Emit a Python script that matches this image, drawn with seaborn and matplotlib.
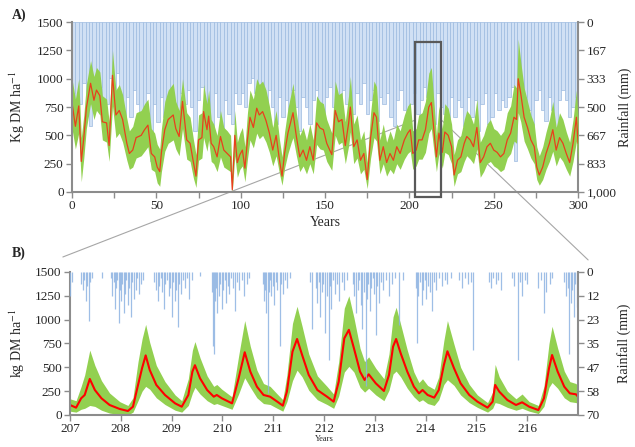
import numpy as np
import seaborn as sns
from matplotlib import pyplot as plt
from matplotlib.patches import Rectangle, ConnectionPatch

# ---------------- Panel A: 300 year simulation ----------------
yearsA = [0, 2, 4, 5.5, 7, 8.5, 11, 13, 14.5, 16.5,
          18, 20.5, 22, 24, 26, 28, 30, 32.5, 34, 36,
          38, 41, 43, 45, 47, 49, 50.5, 52, 53, 55,
          57, 60, 61.5, 63.5, 65.5, 68, 70, 72, 73.5, 75,
          77, 78, 80, 81, 82.5, 84, 86, 88, 90, 92,
          94, 95, 96.5, 98, 99.5, 101, 102.5, 104, 105.5, 107.5,
          109.5, 111, 113, 115, 117, 119, 121, 123, 124.5, 126,
          128, 130, 131, 133, 135, 137, 139, 141, 143, 145,
          147, 149, 151, 154, 156, 158, 160, 162, 164, 165,
          167, 169, 171, 173, 175, 177, 179, 180.5, 182.5, 184.5,
          186.5, 188.5, 190.5, 192.5, 194.5, 197, 199, 200.5, 202, 204,
          205.5, 207.5, 209.5, 211.5, 213, 214.5, 216, 217.5, 219.5, 221,
          223, 225, 226.5, 228.5, 230.5, 232.5, 234, 236, 238, 240,
          242, 244, 246, 248, 250, 252, 254, 256, 258, 260,
          262, 263.5, 264.5, 266, 268, 270, 272, 274, 275.5, 277,
          279, 281, 283, 285, 287, 289, 291, 293, 295, 297,
          299, 300]
meanA = [790, 580, 760, 270, 480, 740, 960, 810, 900, 850,
         620, 610, 410, 1030, 680, 720, 640, 430, 340, 370,
         480, 500, 550, 590, 340, 310, 220, 180, 350, 550,
         640, 680, 560, 490, 800, 460, 430, 260, 140, 460,
         480, 710, 550, 670, 430, 400, 310, 490, 370, 340,
         310, 20, 500, 260, 330, 370, 210, 460, 660, 570,
         740, 680, 710, 630, 520, 370, 500, 280, 140, 340,
         520, 640, 700, 490, 310, 370, 280, 400, 280, 610,
         565, 550, 430, 330, 720, 620, 640, 410, 610, 750,
         400, 460, 280, 340, 110, 480, 700, 660, 280, 400,
         260, 340, 280, 400, 340, 460, 520, 550, 340, 370,
         460, 460, 550, 750, 790, 550, 310, 520, 350, 530,
         500, 400, 150, 280, 310, 430, 490, 460, 400, 570,
         260, 310, 400, 430, 370, 350, 310, 340, 460, 520,
         660, 640, 1000, 870, 660, 570, 460, 400, 220, 150,
         220, 340, 430, 550, 370, 480, 430, 340, 260, 430,
         660, 430]
lowA = [560, 380, 520, 90, 300, 560, 780, 640, 720, 680,
        460, 440, 270, 760, 480, 520, 440, 280, 200, 220,
        300, 320, 360, 400, 200, 180, 80, 50, 180, 360,
        430, 460, 380, 320, 560, 290, 270, 120, 40, 280,
        300, 480, 360, 460, 270, 250, 180, 310, 220, 200,
        180, 0, 320, 130, 200, 230, 90, 290, 460, 390,
        520, 470, 500, 440, 350, 230, 320, 160, 60, 210,
        340, 440, 480, 320, 180, 230, 160, 250, 160, 420,
        380, 370, 270, 190, 500, 420, 440, 250, 410, 530,
        250, 300, 160, 200, 30, 300, 480, 450, 160, 250,
        140, 200, 160, 250, 200, 290, 340, 360, 200, 230,
        290, 290, 350, 520, 560, 360, 180, 340, 210, 350,
        330, 250, 50, 160, 180, 270, 320, 290, 250, 380,
        130, 180, 250, 270, 230, 210, 180, 200, 300, 340,
        450, 430, 700, 620, 450, 380, 300, 250, 110, 60,
        110, 200, 270, 360, 230, 310, 270, 200, 140, 270,
        450, 250]
highA = [1000, 820, 1000, 480, 680, 950, 1160, 1020, 1100, 1060,
         850, 820, 620, 1250, 900, 950, 860, 650, 540, 580,
         700, 720, 780, 820, 560, 520, 420, 380, 560, 800,
         900, 960, 800, 720, 1000, 700, 660, 460, 330, 680,
         700, 950, 780, 900, 640, 600, 500, 720, 570, 540,
         500, 150, 720, 440, 520, 570, 400, 700, 900, 820,
         1000, 950, 980, 900, 760, 570, 720, 460, 310, 530,
         740, 880, 960, 700, 500, 570, 460, 600, 460, 850,
         800, 780, 640, 520, 980, 860, 880, 620, 860, 1020,
         600, 680, 460, 540, 260, 700, 980, 930, 460, 600,
         440, 540, 460, 600, 540, 680, 760, 790, 540, 560,
         680, 700, 800, 1050, 1100, 800, 500, 760, 560, 780,
         740, 600, 330, 460, 500, 640, 720, 680, 600, 820,
         440, 500, 600, 640, 560, 540, 500, 540, 700, 760,
         950, 920, 1350, 1150, 920, 800, 680, 600, 400, 320,
         400, 530, 640, 800, 570, 700, 640, 530, 440, 640,
         900, 650]

# annual rainfall (mm), bars centred on odd years
rainYearsA = list(range(1, 300, 2))
rainA = [420, 560, 480, 360, 500, 610, 420, 520, 380, 560,
         480, 330, 400, 300, 500, 610, 440, 560, 400, 480,
         560, 660, 420, 820, 480, 590, 440, 560, 660, 460,
         500, 620, 420, 480, 400, 500, 640, 460, 380, 540,
         520, 630, 420, 560, 680, 460, 540, 600, 420, 480,
         420, 500, 360, 330, 420, 380, 440, 480, 400, 500,
         600, 440, 560, 460, 600, 400, 500, 640, 440, 500,
         600, 460, 400, 520, 640, 440, 380, 500, 580, 440,
         400, 480, 580, 540, 420, 480, 360, 540, 460, 400,
         580, 440, 480, 420, 560, 610, 460, 400, 520, 640,
         480, 420, 540, 460, 380, 440, 480, 600, 420, 500,
         540, 640, 440, 560, 460, 500, 610, 440, 560, 460,
         640, 480, 420, 600, 560, 420, 520, 460, 500, 440,
         380, 820, 400, 460, 440, 520, 610, 460, 400, 520,
         580, 440, 520, 620, 460, 400, 460, 560, 500, 440]

# ---------------- Panel B: zoom on years 207-217 ----------------
timeB = [207.0, 207.12, 207.22, 207.29, 207.39, 207.49, 207.62, 207.78, 207.98, 208.14,
         208.24, 208.34, 208.42, 208.49, 208.57, 208.70, 208.87, 209.07, 209.2, 209.33,
         209.41, 209.46, 209.56, 209.70, 209.83, 209.89, 209.99, 210.19, 210.32, 210.44,
         210.55, 210.68, 210.81, 210.94, 211.08, 211.19, 211.27, 211.38, 211.47, 211.57,
         211.70, 211.87, 212.06, 212.19, 212.29, 212.40, 212.49, 212.59, 212.71, 212.80,
         212.88, 213.02, 213.18, 213.28, 213.36, 213.42, 213.51, 213.64, 213.77, 213.87,
         213.94, 214.04, 214.17, 214.26, 214.36, 214.43, 214.56, 214.69, 214.86, 215.02,
         215.22, 215.32, 215.37, 215.45, 215.61, 215.78, 215.90, 216.04, 216.22, 216.33,
         216.43, 216.49, 216.60, 216.73, 216.84, 216.96, 217.0]
meanB = [105, 77, 175, 210, 378, 262, 175, 105, 63, 42,
         87, 315, 493, 625, 472, 315, 210, 122, 87, 210,
         455, 522, 385, 262, 192, 210, 175, 122, 385, 658,
         455, 297, 210, 192, 140, 98, 245, 664, 797, 629,
         420, 262, 192, 140, 350, 804, 893, 699, 455, 367,
         427, 332, 252, 420, 717, 797, 647, 455, 297, 227,
         262, 210, 182, 262, 524, 668, 490, 332, 210, 140,
         77, 140, 315, 245, 157, 105, 133, 87, 52, 175,
         490, 629, 455, 297, 227, 217, 192]
lowB = [40, 30, 60, 70, 100, 90, 50, 20, 5, 0,
        30, 150, 250, 300, 270, 180, 110, 50, 30, 100,
        230, 290, 220, 150, 110, 120, 100, 60, 220, 390,
        290, 180, 120, 110, 70, 40, 140, 360, 470, 400,
        260, 160, 110, 70, 200, 450, 510, 450, 290, 240,
        280, 210, 150, 260, 430, 460, 400, 280, 190, 140,
        160, 120, 100, 160, 320, 370, 310, 210, 130, 80,
        30, 70, 130, 120, 80, 50, 70, 40, 15, 90,
        290, 340, 280, 180, 140, 130, 120]
highB = [170, 150, 300, 420, 680, 520, 360, 230, 140, 100,
         180, 560, 800, 950, 760, 520, 350, 210, 150, 380,
         680, 770, 600, 410, 300, 320, 270, 190, 620, 990,
         720, 470, 330, 300, 220, 160, 420, 960, 1140, 930,
         640, 410, 300, 220, 560, 1120, 1250, 1020, 700, 560,
         610, 490, 380, 640, 1030, 1130, 950, 680, 450, 340,
         380, 310, 270, 400, 780, 990, 740, 500, 320, 210,
         130, 240, 530, 400, 250, 170, 220, 140, 100, 300,
         750, 930, 700, 460, 350, 330, 300]

# daily rainfall events (mm)
rainDayB = [207.01, 207.03, 207.22, 207.25, 207.28, 207.31, 207.34, 207.37, 207.40, 207.44,
            207.63, 207.80, 207.83, 207.86, 207.88, 207.91, 207.93, 207.96, 207.98, 208.01,
            208.03, 208.06, 208.09, 208.11, 208.14, 208.17, 208.20, 208.23, 208.26, 208.29,
            208.32, 208.36, 208.40, 208.44, 208.65, 208.70, 208.73, 208.76, 208.79, 208.82,
            208.85, 208.88, 208.91, 208.94, 208.97, 209.00, 209.03, 209.06, 209.09, 209.12,
            209.15, 209.18, 209.22, 209.26, 209.30, 209.35, 209.40, 209.55, 209.80, 209.82,
            209.84, 209.86, 209.88, 209.90, 209.93, 209.96, 209.99, 210.02, 210.05, 210.08,
            210.11, 210.14, 210.17, 210.20, 210.24, 210.28, 210.33, 210.38, 210.43, 210.48,
            210.53, 210.80, 210.82, 210.84, 210.86, 210.89, 210.91, 210.93, 210.96, 210.99,
            211.02, 211.05, 211.08, 211.13, 211.15, 211.19, 211.23, 211.28, 211.33, 211.72,
            211.77, 211.84, 211.87, 211.90, 211.93, 211.96, 211.99, 212.02, 212.05, 212.10,
            212.11, 212.14, 212.17, 212.21, 212.25, 212.30, 212.35, 212.40, 212.46, 212.57,
            212.60, 212.63, 212.66, 212.69, 212.72, 212.75, 212.78, 212.83, 212.84, 212.87,
            212.90, 212.93, 212.96, 212.99, 213.02, 213.05, 213.09, 213.13, 213.17, 213.22,
            213.28, 213.34, 213.40, 213.47, 213.55, 213.81, 213.84, 213.86, 213.89, 213.92,
            213.95, 213.98, 214.01, 214.04, 214.08, 214.12, 214.16, 214.20, 214.26, 214.32,
            214.38, 214.43, 214.51, 214.66, 214.72, 214.77, 214.83, 214.89, 214.93, 215.25,
            215.29, 215.33, 215.38, 215.43, 215.49, 215.71, 215.75, 215.81, 215.85, 215.90,
            215.95, 216.00, 216.22, 216.27, 216.33, 216.38, 216.44, 216.48, 216.72, 216.76,
            216.80, 216.83, 216.86, 216.89, 216.92, 216.95, 216.98]
rainMmB = [12, 5, 6, 9, 4, 14, 7, 24, 5, 3,
           3, 3, 12, 5, 18, 8, 4, 25, 9, 14,
           6, 20, 11, 4, 16, 8, 22, 5, 13, 9,
           3, 11, 6, 4, 5, 9, 14, 7, 3, 10,
           18, 6, 4, 12, 8, 22, 5, 14, 9, 27,
           6, 11, 4, 8, 3, 13, 4, 2, 10, 36,
           40, 14, 8, 20, 12, 6, 18, 9, 4, 15,
           7, 11, 3, 8, 19, 5, 9, 4, 12, 6,
           3, 6, 14, 9, 20, 59, 10, 4, 12, 7,
           16, 5, 9, 36, 6, 11, 4, 8, 3, 5,
           28, 8, 15, 5, 22, 10, 6, 30, 12, 43,
           7, 18, 4, 11, 6, 14, 5, 9, 4, 6,
           12, 20, 9, 4, 16, 28, 10, 56, 13, 6,
           19, 8, 3, 11, 31, 7, 15, 5, 9, 4,
           12, 6, 3, 26, 4, 8, 35, 12, 5, 16,
           9, 4, 13, 7, 10, 19, 5, 9, 3, 7,
           4, 6, 3, 4, 8, 3, 6, 5, 38, 5,
           8, 3, 6, 4, 9, 3, 7, 43, 5, 12,
           4, 6, 8, 4, 20, 10, 6, 3, 5, 12,
           8, 40, 15, 9, 22, 6, 17]

leftTicks = [0, 250, 500, 750, 1000, 1250, 1500]
rainTickLabelsA = ['0', '167', '333', '500', '667', '833', '1,000']
rainTickLabelsB = ['0', '12', '23', '35', '47', '58', '70']

# ---------------- style ----------------
sns.set_style('white')
plt.rcParams['font.family'] = ['Liberation Serif', 'DejaVu Serif']
plt.rcParams['mathtext.fontset'] = 'stix'
plt.rcParams['font.size'] = 9.5

green = '#92d050'
spineGrey = '#8c8c8c'

fig = plt.figure(figsize=(6.35, 4.47), dpi=100)
axA = fig.add_axes([0.1134, 0.5705, 0.797, 0.380])
axB = fig.add_axes([0.1102, 0.0716, 0.800, 0.320])


def styleAxes(ax, ax2):
    for a in (ax, ax2):
        a.spines['top'].set_visible(False)
    ax.spines['right'].set_visible(False)
    ax2.spines['left'].set_visible(False)
    ax2.spines['bottom'].set_visible(False)
    for s in ('left', 'bottom'):
        ax.spines[s].set_color(spineGrey)
        ax.spines[s].set_linewidth(1.5)
    ax2.spines['right'].set_color(spineGrey)
    ax2.spines['right'].set_linewidth(1.5)
    ax.tick_params(axis='both', direction='out', length=4, width=1, color=spineGrey,
                   left=True, bottom=True, pad=2, labelsize=9.5)
    ax2.tick_params(axis='y', direction='out', length=4, width=1, color=spineGrey,
                    right=True, pad=2, labelsize=9.5)
    ax.set_yticks(leftTicks)
    ax.set_ylim(0, 1500)


# Panel A
axA2 = axA.twinx()
axA.set_zorder(axA2.get_zorder() + 1)
axA.patch.set_visible(False)
axA2.bar(rainYearsA, rainA, width=2.0, color='#d0e0f4', edgecolor='#9dbbe0', linewidth=0.5)
axA2.set_ylim(1000, 0)
axA2.set_yticks(np.linspace(0, 1000, 7))
axA2.set_yticklabels(rainTickLabelsA)
axA.fill_between(yearsA, lowA, highA, color=green, linewidth=0)
sns.lineplot(x=yearsA, y=meanA, ax=axA, color='#e8401c', linewidth=0.9)
axA.set_xlim(0, 300)
axA.set_xticks(range(0, 301, 25))
axA.set_xticklabels([str(v) if v % 50 == 0 else '' for v in range(0, 301, 25)])
styleAxes(axA, axA2)
axA.set_xlabel('Years', fontsize=10, labelpad=3)
axA.set_ylabel('Kg DM ha$^{-1}$', fontsize=10)
axA.yaxis.set_label_coords(-0.089, 0.5)
axA2.set_ylabel('Rainfall (mm)', fontsize=10)
axA2.yaxis.set_label_coords(1.079, 0.5)
axA.add_patch(Rectangle((203.5, -45), 15.5, 1370, fill=False, edgecolor='#595959',
                        linewidth=1.6, clip_on=False, zorder=5))

# Panel B
axB2 = axB.twinx()
axB.fill_between(timeB, lowB, highB, color=green, linewidth=0)
sns.lineplot(x=timeB, y=meanB, ax=axB, color='#ff0000', linewidth=1.5)
axB2.vlines(rainDayB, 0, rainMmB, color='#8db3e2', linewidth=0.9, alpha=0.85)
axB2.set_ylim(70, 0)
axB2.set_yticks(np.linspace(0, 70, 7))
axB2.set_yticklabels(rainTickLabelsB)
axB.set_xlim(207, 217)
axB.set_xticks(range(207, 217))
styleAxes(axB, axB2)
axB.set_xlabel('Years', fontsize=6, labelpad=0)
axB.set_ylabel('kg DM ha$^{-1}$', fontsize=10)
axB.yaxis.set_label_coords(-0.084, 0.5)
axB2.set_ylabel('Rainfall (mm)', fontsize=10)
axB2.yaxis.set_label_coords(1.077, 0.5)

# zoom connectors
for xa, xb, yb in ((203.5, 206.86, 1657), (219.0, 217.2, 1626)):
    con = ConnectionPatch(xyA=(xa, 635), coordsA=axA.transData,
                          xyB=(xb, yb), coordsB=axB.transData,
                          color='#a6a6a6', linewidth=0.8)
    fig.add_artist(con)

fig.text(0.019, 0.966, 'A)', fontsize=10, fontweight='bold', va='center')
fig.text(0.019, 0.434, 'B)', fontsize=10, fontweight='bold', va='center')

plt.savefig('out.png', dpi=100)
